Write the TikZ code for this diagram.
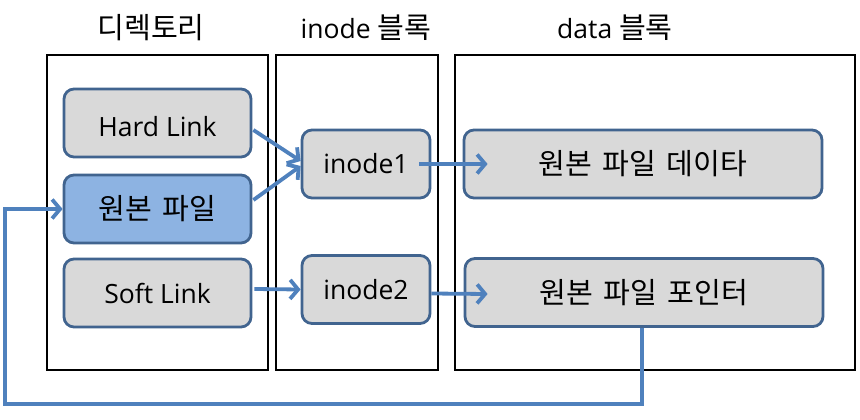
\documentclass[tikz,border=0pt]{standalone}
\usepackage{fontspec}
\setmainfont{Open Sans}
\newfontfamily\kr[WordSpace=1.6,Scale=1.1]{Noto Sans CJK KR}
\usetikzlibrary{arrows.meta,calc}
\definecolor{boxline}{HTML}{41648F}
\definecolor{boxfill}{HTML}{D9D9D9}
\definecolor{bluefill}{HTML}{8DB3E2}
\definecolor{arrowc}{HTML}{4F81BD}
\begin{document}
\begin{tikzpicture}[x=1pt,y=-1pt,
  font=\fontsize{26.5}{30}\selectfont,
  container/.style={draw=black,line width=2.8pt,inner sep=0pt},
  item/.style={draw=boxline,fill=boxfill,line width=2.8pt,rounded corners=10pt,inner sep=0pt,minimum height=68pt},
  title/.style={inner sep=0pt},
  conn/.style={draw=arrowc,line width=3.8pt,-{Straight Barb[length=8pt,width=19pt]}},
]
\fill[white] (0,0) rectangle (860,420);
\useasboundingbox (0,0) rectangle (860,420);

\node[container,minimum width=221pt,minimum height=315pt] (dirbox) at (157.5,212.5) {};
\node[container,minimum width=162pt,minimum height=315pt] (inobox) at (357,212.5) {};
\node[container,minimum width=400pt,minimum height=315pt] (databox) at (655,212.5) {};

\node[title] (t1) at (151,28) {\kr 디렉토리};
\node[title] (t2) at (366,28) {inode \kr 블록};
\node[title] (t3) at (615,28) {data \kr 블록};

\node[item,minimum width=187pt,text height=26pt,text depth=0pt] (hard) at (157.5,123) {Hard Link\hspace{10pt}};
\node[item,minimum width=187pt,fill=bluefill] (orig) at (157.5,209) {\kr 원본 파일\hspace{12pt}};
\node[item,minimum width=187pt] (soft) at (157.5,293) {Soft Link\hspace{34pt}};
\node[item,minimum width=128pt] (ino1) at (366,164) {inode1\hspace{8pt}};
\node[item,minimum width=128pt] (ino2) at (366,289.5) {inode2\hspace{8pt}};
\node[item,minimum width=358pt] (data1) at (643,164) {\kr 원본 파일 데이타\hspace{11pt}};
\node[item,minimum width=358pt] (ptr) at (644,292.5) {\kr 원본 파일 포인터\hspace{13pt}};

\coordinate (lb) at (5,404);

\draw[conn] ($(hard.east)+(1,7)$) -- ($(ino1.west)+(0,-3)$);
\draw[conn] ($(orig.east)+(1,-9)$) -- ($(ino1.west)+(0,2)$);
\draw[conn] ($(soft.east)+(2,-4)$) -- (ino2.west);
\draw[conn] ($(ino1.east)+(-12,0)$) -- ($(data1.west)+(25,0)$);
\draw[conn] ($(ino2.east)+(0,4)$) -- ($(ptr.west)+(24,1.5)$);
\draw[conn] ($(ptr.south)+(-2,0)$) |- (lb) |- (orig.west);
\end{tikzpicture}
\end{document}
